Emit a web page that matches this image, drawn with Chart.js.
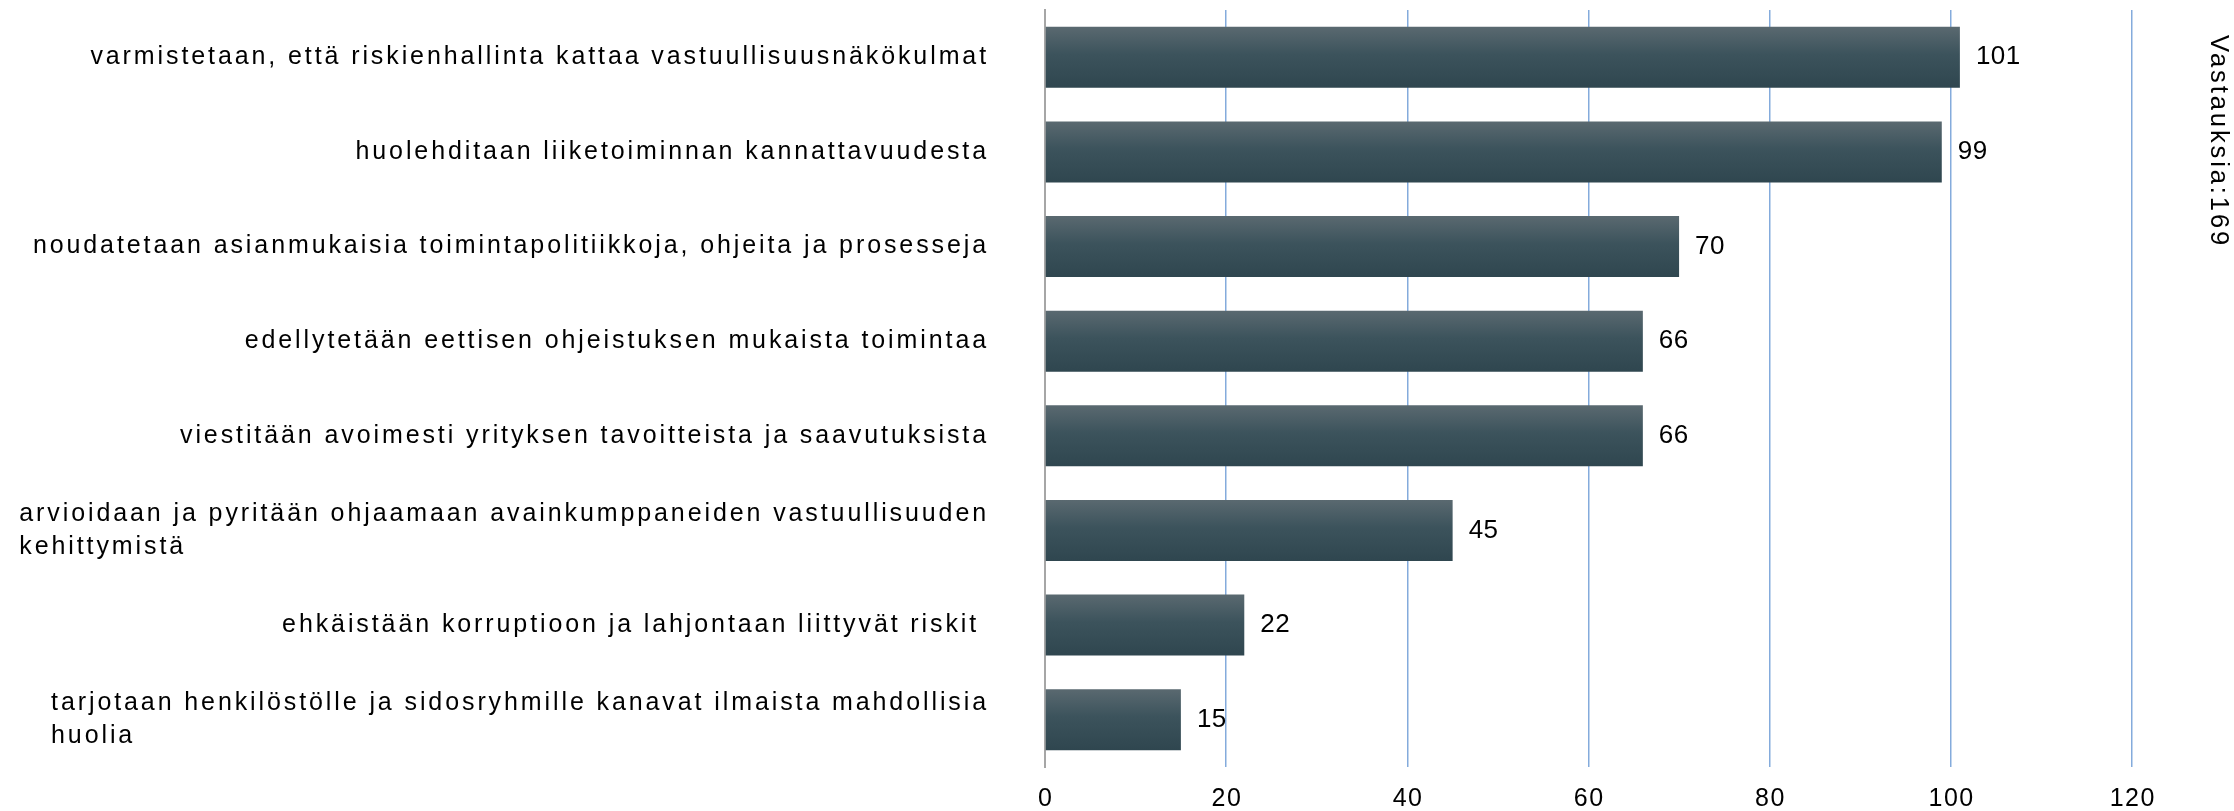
<!DOCTYPE html>
<html><head><meta charset="utf-8">
<script src="https://cdn.jsdelivr.net/npm/chart.js@4/dist/chart.umd.min.js"></script>
<style>html,body{margin:0;padding:0;background:#fff}#wrap{width:2234px;height:811px}</style>
</head><body><div id="wrap"><canvas id="c" width="2234" height="811"></canvas></div>
<script>
const categories = [
  ["varmistetaan, että riskienhallinta kattaa vastuullisuusnäkökulmat"],
  ["huolehditaan liiketoiminnan kannattavuudesta"],
  ["noudatetaan asianmukaisia toimintapolitiikkoja, ohjeita ja prosesseja"],
  ["edellytetään eettisen ohjeistuksen mukaista toimintaa"],
  ["viestitään avoimesti yrityksen tavoitteista ja saavutuksista"],
  ["arvioidaan ja pyritään ohjaamaan avainkumppaneiden vastuullisuuden", "kehittymistä"],
  ["ehkäistään korruptioon ja lahjontaan liittyvät riskit "],
  ["tarjotaan henkilöstölle ja sidosryhmille kanavat ilmaista mahdollisia", "huolia"]
];
const values = [101, 99, 70, 66, 66, 45, 22, 15];
const xTicks = [0, 20, 40, 60, 80, 100, 120];
const sideNote = "Vastauksia:169";

const FONT = "'Liberation Sans', Arial, sans-serif";
const BAR_PCT = 0.645;

const labelPlugin = {
  id: 'labels',
  afterDraw(chart) {
    const ctx = chart.ctx;
    const ys = chart.scales.y;
    const xs = chart.scales.x;
    ctx.save();
    ctx.fillStyle = '#000';
    ctx.font = '25px ' + FONT;
    ctx.letterSpacing = '2.9px';
    ctx.textBaseline = 'middle';
    ctx.textAlign = 'left';
    const rightEdge = chart.chartArea.left - 56;
    const lh = 33;
    categories.forEach((lines, i) => {
      const yc = ys.getPixelForValue(i);
      let maxW = 0;
      lines.forEach(l => { maxW = Math.max(maxW, ctx.measureText(l).width); });
      const x0 = rightEdge - maxW;
      const y0 = yc - (lines.length - 1) * lh / 2;
      lines.forEach((l, k) => ctx.fillText(l, x0, y0 + k * lh));
    });
    // x tick labels
    ctx.font = '25px ' + FONT;
    ctx.letterSpacing = '1.5px';
    xs.ticks.forEach(t => {
      const s = String(t.value);
      const w = ctx.measureText(s).width - 1.5;
      ctx.fillText(s, xs.getPixelForValue(t.value) - w / 2, chart.chartArea.bottom + 32);
    });
    // value labels
    ctx.font = '26px ' + FONT;
    ctx.letterSpacing = '0.5px';
    const meta = chart.getDatasetMeta(0);
    meta.data.forEach((bar, i) => {
      ctx.fillText(String(values[i]), bar.x + 16, bar.y);
    });
    // side note
    ctx.translate(2218, 35);
    ctx.rotate(Math.PI / 2);
    ctx.font = '25.5px ' + FONT;
    ctx.letterSpacing = '2.9px';
    ctx.fillText(sideNote, 0, 0);
    ctx.restore();
  }
};

function barFill(c) {
  const ch = c.chart;
  const ys = ch.scales && ch.scales.y;
  const ca = ch.chartArea;
  if (!ca || !ys || c.dataIndex === undefined) return '#3a5059';
  const yc = ys.getPixelForValue(c.dataIndex);
  const band = (ca.bottom - ca.top) / categories.length;
  const h = band * BAR_PCT;
  const top = yc - h / 2, bot = yc + h / 2;
  if (!Number.isFinite(top) || !Number.isFinite(bot)) return '#3a5059';
  const g = ch.ctx.createLinearGradient(0, top, 0, bot);
  g.addColorStop(0, '#5a6970');
  g.addColorStop(0.45, '#3c535c');
  g.addColorStop(1, '#2f464f');
  return g;
}

const ctx = document.getElementById('c').getContext('2d');
const chart = new Chart(ctx, {
  type: 'bar',
  data: {
    labels: categories,
    datasets: [{
      data: values,
      backgroundColor: barFill,
      borderWidth: 0,
      barPercentage: BAR_PCT,
      categoryPercentage: 1.0
    }]
  },
  options: {
    indexAxis: 'y',
    responsive: false,
    animation: false,
    devicePixelRatio: 1,
    layout: { padding: { top: 10, right: 102, left: 0, bottom: 0 } },
    plugins: { legend: { display: false }, tooltip: { enabled: false }, title: { display: false } },
    scales: {
      x: {
        min: 0, max: 120,
        afterBuildTicks: (s) => { s.ticks = xTicks.map(v => ({ value: v })); },
        afterFit: (s) => { s.height = 44; },
        grid: {
          color: (c) => c.tick && c.tick.value === 0 ? 'rgba(0,0,0,0)' : '#84abdc',
          lineWidth: 1.5,
          drawTicks: false
        },
        border: { display: false },
        ticks: { display: false }
      },
      y: {
        afterFit: (s) => { s.width = 1045; },
        grid: { display: false, drawTicks: false },
        border: { display: true, color: '#a6a6a6', width: 2 },
        ticks: { display: false }
      }
    }
  },
  plugins: [labelPlugin]
});
</script>
</body></html>
